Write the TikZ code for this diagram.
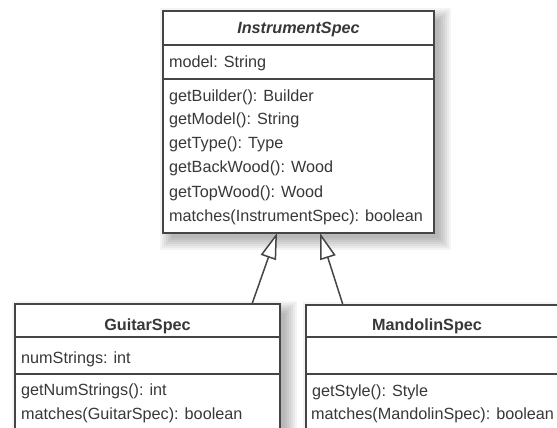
\documentclass[tikz,border=0pt]{standalone}
\usepackage{fontspec}
\setmainfont{Liberation Sans}
\usetikzlibrary{arrows.meta,calc}
\definecolor{ink}{HTML}{383838}
\definecolor{rulec}{HTML}{454545}
\newcommand\softshadow[4]{%
  \foreach \r in {-2,0,...,10}{%
    \fill[black,opacity=0.045] ({#1+7-\r},{#2+7-\r}) rectangle ({#3+7+\r},{#4+7+\r});}}
\begin{document}
\begin{tikzpicture}[x=1pt,y=-1pt,
  box/.style={draw=rulec, line width=1.6pt, fill=white, inner sep=0pt, outer sep=0pt, anchor=north west},
  sep/.style={draw=rulec, line width=1.6pt},
  txt/.style={text=ink, inner sep=0pt, anchor=base west, font=\fontsize{16.2}{20}\selectfont},
  ttl/.style={text=ink, inner sep=0pt, anchor=base, font=\fontsize{16.2}{20}\selectfont\bfseries},
  gen/.style={draw=rulec, line width=1.5pt, -{Triangle[open, length=26pt, width=16pt, fill=white]}}]
\useasboundingbox (0,0) rectangle (557,428);
\fill[white] (0,0) rectangle (557,428);
\clip (0,0) rectangle (557,428);
% shadows
\softshadow{163}{11}{434}{233}
\softshadow{15}{304}{280}{560}
\softshadow{306}{305}{590}{560}
% InstrumentSpec
\node[box, minimum width=271pt, minimum height=222pt] (spec) at (163,11) {};
\draw[sep] (spec.west |- 0,45) -- (spec.east |- 0,45);
\draw[sep] (spec.west |- 0,79) -- (spec.east |- 0,79);
\node[ttl] (specT) at (298.5,34) {\itshape InstrumentSpec};
\node[txt] (specA) at (169,67) {model: String};
\node[txt] (specM1) at (169,101) {getBuilder(): Builder};
\node[txt] (specM2) at (169,124.5) {getModel(): String};
\node[txt] (specM3) at (169,148.5) {getType(): Type};
\node[txt] (specM4) at (169,172.5) {getBackWood(): Wood};
\node[txt] (specM5) at (169,197) {getTopWood(): Wood};
\node[txt] (specM6) at (169,221) {matches(InstrumentSpec): boolean};
% GuitarSpec
\node[box, minimum width=265pt, minimum height=256pt] (guitar) at (15,304) {};
\draw[sep] (guitar.west |- 0,337) -- (guitar.east |- 0,337);
\draw[sep] (guitar.west |- 0,374) -- (guitar.east |- 0,374);
\node[ttl] (guitarT) at (147.5,330) {GuitarSpec};
\node[txt] (guitarA) at (21,363) {numStrings: int};
\node[txt] (guitarM1) at (21,395) {getNumStrings(): int};
\node[txt] (guitarM2) at (21,419) {matches(GuitarSpec): boolean};
% MandolinSpec
\node[box, minimum width=284pt, minimum height=255pt] (mando) at (306,305) {};
\draw[sep] (mando.west |- 0,337) -- (mando.east |- 0,337);
\draw[sep] (mando.west |- 0,374) -- (mando.east |- 0,374);
\node[ttl] (mandoT) at (427,330) {MandolinSpec};
\node[txt] (mandoM1) at (312,396) {getStyle(): Style};
\node[txt] (mandoM2) at (311,419) {matches(MandolinSpec): boolean};
% generalisation arrows
\draw[gen] ([xshift=104.5pt]guitar.north) -- ([xshift=-21.5pt]spec.south);
\draw[gen] ([xshift=-105pt]mando.north) -- ([xshift=21.5pt]spec.south);
\end{tikzpicture}
\end{document}
